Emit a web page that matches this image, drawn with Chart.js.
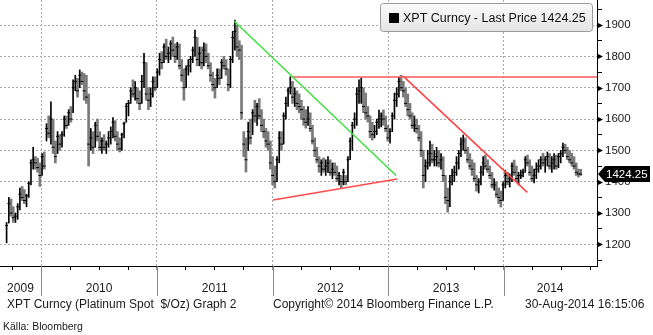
<!DOCTYPE html>
<html>
<head>
<meta charset="utf-8">
<script src="https://cdn.jsdelivr.net/npm/chart.js@4.4.1/dist/chart.umd.min.js"></script>
<style>
  html, body { margin: 0; padding: 0; background: #fff; }
  canvas { display: block; }
</style>
</head>
<body>
<canvas id="xptChart" width="653" height="335"></canvas>
<script>
// Platinum spot, weekly bars starting mid-September 2009 (decimal year of the first bar)
const firstWeek = 2009.70;

const weekHigh = [
  1270, 1350, 1345, 1320, 1300, 1330, 1380, 1385, 1375, 1360,
  1400, 1470, 1510, 1480, 1475, 1460, 1490, 1495, 1585, 1610,
  1655, 1600, 1530, 1560, 1550, 1560, 1610, 1610, 1630, 1640,
  1725, 1740, 1730, 1757, 1750, 1745, 1740, 1680, 1570, 1560,
  1590, 1600, 1560, 1540, 1550, 1530, 1560, 1575, 1605, 1595,
  1560, 1540, 1555, 1590, 1650, 1660, 1700, 1725, 1720, 1700,
  1690, 1740, 1810, 1780, 1700, 1700, 1735, 1735, 1760, 1810,
  1815, 1840, 1855, 1830, 1850, 1862, 1840, 1845, 1840, 1790,
  1760, 1770, 1790, 1800, 1830, 1884, 1860, 1830, 1830, 1843,
  1840, 1810, 1780, 1750, 1730, 1760, 1760, 1790, 1800, 1790,
  1760, 1800, 1880, 1916, 1900, 1850, 1836, 1560, 1540, 1590,
  1600, 1630, 1660, 1650, 1665, 1630, 1600, 1570, 1560, 1530,
  1480, 1450, 1480, 1560, 1560, 1620, 1670, 1700, 1735, 1720,
  1700, 1690, 1680, 1660, 1640, 1630, 1640, 1620, 1580, 1540,
  1510, 1480, 1470, 1476, 1470, 1480, 1470, 1460, 1460, 1450,
  1430, 1420, 1440, 1420, 1480, 1540, 1590, 1620, 1700, 1725,
  1731, 1700, 1683, 1640, 1610, 1590, 1580, 1600, 1629, 1620,
  1629, 1610, 1580, 1570, 1620, 1683, 1700, 1734, 1740, 1720,
  1700, 1680, 1650, 1620, 1610, 1600, 1580, 1560, 1500, 1470,
  1500, 1530, 1520, 1500, 1510, 1500, 1490, 1480, 1420, 1380,
  1420, 1440, 1450, 1480, 1500, 1540, 1549, 1540, 1510, 1490,
  1470, 1460, 1420, 1410, 1450, 1480, 1485, 1470, 1450, 1430,
  1410, 1400, 1380, 1370, 1400, 1437, 1430, 1425, 1460, 1469,
  1450, 1430, 1437, 1440, 1480, 1485, 1470, 1450, 1440, 1460,
  1470, 1480, 1491, 1480, 1495, 1490, 1480, 1490, 1485, 1490,
  1500, 1523, 1520, 1510, 1500, 1491, 1480, 1460, 1440, 1440
];

const weekLow = [
  1205, 1268, 1290, 1270, 1270, 1280, 1310, 1340, 1330, 1320,
  1350, 1390, 1440, 1440, 1430, 1385, 1420, 1440, 1530, 1540,
  1520, 1490, 1460, 1490, 1500, 1510, 1545, 1570, 1580, 1590,
  1620, 1690, 1670, 1700, 1710, 1660, 1650, 1450, 1500, 1490,
  1510, 1530, 1500, 1490, 1500, 1490, 1510, 1520, 1540, 1530,
  1500, 1495, 1500, 1540, 1590, 1610, 1650, 1670, 1660, 1650,
  1630, 1650, 1700, 1660, 1630, 1640, 1670, 1690, 1700, 1740,
  1760, 1780, 1790, 1780, 1790, 1800, 1780, 1790, 1760, 1720,
  1660, 1700, 1740, 1750, 1780, 1800, 1770, 1770, 1760, 1770,
  1780, 1760, 1720, 1690, 1667, 1700, 1710, 1730, 1760, 1740,
  1690, 1700, 1780, 1820, 1800, 1790, 1600, 1480, 1431, 1500,
  1520, 1550, 1590, 1580, 1600, 1560, 1540, 1510, 1500, 1440,
  1390, 1380, 1400, 1460, 1500, 1520, 1600, 1640, 1680, 1650,
  1640, 1630, 1620, 1600, 1580, 1571, 1580, 1560, 1520, 1480,
  1460, 1430, 1420, 1430, 1420, 1430, 1420, 1410, 1420, 1400,
  1390, 1380, 1390, 1390, 1400, 1470, 1500, 1570, 1580, 1650,
  1650, 1620, 1600, 1590, 1540, 1533, 1540, 1550, 1570, 1575,
  1580, 1560, 1530, 1523, 1560, 1600, 1640, 1670, 1690, 1670,
  1640, 1610, 1600, 1570, 1560, 1555, 1530, 1480, 1380, 1400,
  1440, 1450, 1460, 1450, 1450, 1447, 1440, 1400, 1330, 1303,
  1320, 1390, 1400, 1420, 1440, 1480, 1500, 1490, 1460, 1440,
  1420, 1400, 1370, 1364, 1390, 1420, 1440, 1430, 1410, 1380,
  1373, 1350, 1330, 1319, 1340, 1380, 1390, 1383, 1400, 1420,
  1400, 1390, 1410, 1415, 1430, 1450, 1420, 1400, 1396, 1410,
  1430, 1440, 1450, 1430, 1450, 1440, 1430, 1440, 1440, 1445,
  1460, 1480, 1490, 1470, 1460, 1450, 1440, 1420, 1415, 1420
];

const weekClose = [
  1260, 1330, 1300, 1285, 1290, 1320, 1360, 1350, 1340, 1355,
  1395, 1460, 1470, 1460, 1445, 1420, 1480, 1450, 1570, 1555,
  1600, 1510, 1480, 1545, 1520, 1550, 1600, 1580, 1620, 1600,
  1700, 1720, 1690, 1740, 1720, 1690, 1670, 1520, 1540, 1510,
  1580, 1545, 1510, 1530, 1510, 1520, 1540, 1560, 1590, 1545,
  1520, 1505, 1550, 1585, 1640, 1650, 1690, 1680, 1700, 1665,
  1650, 1720, 1780, 1680, 1660, 1680, 1720, 1700, 1750, 1790,
  1780, 1830, 1800, 1810, 1840, 1820, 1800, 1830, 1770, 1740,
  1700, 1760, 1770, 1790, 1820, 1860, 1790, 1810, 1780, 1820,
  1800, 1770, 1740, 1710, 1700, 1740, 1730, 1780, 1770, 1760,
  1710, 1790, 1860, 1880, 1830, 1820, 1620, 1520, 1470, 1560,
  1540, 1620, 1610, 1640, 1610, 1580, 1560, 1530, 1520, 1460,
  1420, 1400, 1470, 1540, 1520, 1610, 1650, 1690, 1700, 1670,
  1680, 1650, 1640, 1630, 1600, 1590, 1600, 1570, 1530, 1500,
  1470, 1450, 1460, 1440, 1450, 1460, 1430, 1440, 1430, 1410,
  1420, 1400, 1430, 1400, 1470, 1530, 1580, 1600, 1680, 1690,
  1700, 1640, 1620, 1610, 1560, 1550, 1560, 1590, 1600, 1610,
  1600, 1570, 1540, 1560, 1610, 1660, 1680, 1720, 1700, 1690,
  1650, 1630, 1610, 1580, 1580, 1570, 1540, 1500, 1420, 1450,
  1460, 1490, 1470, 1470, 1480, 1460, 1470, 1420, 1350, 1340,
  1400, 1420, 1430, 1460, 1490, 1520, 1530, 1500, 1470, 1450,
  1440, 1410, 1390, 1400, 1430, 1460, 1450, 1440, 1420, 1390,
  1390, 1360, 1350, 1340, 1390, 1420, 1400, 1410, 1450, 1430,
  1410, 1420, 1420, 1430, 1470, 1460, 1430, 1410, 1420, 1440,
  1450, 1470, 1460, 1470, 1480, 1450, 1460, 1470, 1450, 1480,
  1490, 1510, 1500, 1480, 1470, 1460, 1450, 1430, 1425, 1424.25
];

const lastPrice = 1424.25;

// axis ticks and labels
const priceTicks = [1150, 1200, 1250, 1300, 1350, 1400, 1450, 1500, 1550, 1600, 1650, 1700, 1750, 1800, 1850, 1900, 1950];
const quarterTicks = [2009.75, 2010, 2010.25, 2010.5, 2010.75, 2011, 2011.25, 2011.5, 2011.75, 2012,
  2012.25, 2012.5, 2012.75, 2013, 2013.25, 2013.5, 2013.75, 2014, 2014.25, 2014.5, 2014.75];
const yearBreaks = [2010, 2011, 2012, 2013, 2014];
const yearLabels = ['2009', '2010', '2011', '2012', '2013', '2014'];
const yearLabelPos = [2009.82, 2010.5, 2011.5, 2012.5, 2013.5, 2014.4];

// hand-drawn trend lines, [decimal year, price] end points
const greenTrend = [[2011.667, 1913], [2013.068, 1420]];
const resistance = [[2012.169, 1734], [2014.805, 1734]];
const downTrend = [[2013.129, 1737], [2014.202, 1366]];
const supportTrend = [[2012.004, 1342], [2013.077, 1409]];

const X_MIN = 2009.643, X_MAX = 2014.805;
const Y_MIN = 1131, Y_MAX = 1980;
const FONT = "'Liberation Sans', Arial, sans-serif";
const clear = 'rgba(0,0,0,0)';
const gridGray = '#a8a8a8';

const weekX = weekClose.map((_, i) => firstWeek + i * 7 / 365.25);
const upBars = [];
const downBars = [];
const closeTicks = [];
weekClose.forEach((c, i) => {
  const bar = { x: weekX[i], y: [weekLow[i], weekHigh[i]] };
  if (i === 0 || c >= weekClose[i - 1]) upBars.push(bar); else downBars.push(bar);
  closeTicks.push({ x: weekX[i], y: c });
});

const toPoints = seg => seg.map(([x, y]) => ({ x, y }));
const trendSet = (seg, color) => ({
  type: 'line', data: toPoints(seg), xAxisID: 'x', yAxisID: 'y',
  borderColor: color, borderWidth: 1.5, pointRadius: 0, fill: false, order: 0
});

// axes keep no extra padding so the plot fills the frame
const noPad = s => { s.paddingTop = 0; s.paddingBottom = 0; s.paddingLeft = 0; s.paddingRight = 0; };

// extra drawing: year dividers under the axis, arrow ticks, legend box, last price tag, footer
const decorations = {
  id: 'decorations',
  afterDraw(chart) {
    const { ctx, chartArea: a, scales: { x, y } } = chart;
    ctx.save();

    ctx.strokeStyle = '#8c8c8c';
    ctx.lineWidth = 1;
    yearBreaks.forEach(yr => {
      const px = Math.round(x.getPixelForValue(yr)) + 0.5;
      ctx.beginPath();
      ctx.moveTo(px, a.bottom);
      ctx.lineTo(px, a.bottom + 30);
      ctx.stroke();
    });

    ctx.fillStyle = '#000';
    priceTicks.filter(v => v % 100 === 0).forEach(v => {
      const py = Math.round(y.getPixelForValue(v)) + 0.5;
      ctx.beginPath();
      ctx.moveTo(a.right, py - 3);
      ctx.lineTo(a.right + 6, py);
      ctx.lineTo(a.right, py + 3);
      ctx.closePath();
      ctx.fill();
    });

    // legend box
    const g = ctx.createLinearGradient(0, 3, 0, 32);
    g.addColorStop(0, '#fbfbfb');
    g.addColorStop(1, '#e4e4e4');
    ctx.fillStyle = g;
    ctx.strokeStyle = '#9a9a9a';
    ctx.beginPath();
    ctx.roundRect(380.5, 3.5, 212, 28, 3);
    ctx.fill();
    ctx.stroke();
    ctx.fillStyle = '#000';
    ctx.fillRect(389, 13, 10, 10);
    ctx.font = '12.5px ' + FONT;
    ctx.textBaseline = 'middle';
    ctx.textAlign = 'left';
    ctx.fillStyle = '#111';
    ctx.fillText('XPT Curncy - Last Price ' + lastPrice.toFixed(2), 403, 18.5);

    // last price tag on the price axis
    const ly = y.getPixelForValue(lastPrice);
    ctx.fillStyle = '#000';
    ctx.beginPath();
    ctx.moveTo(a.right + 1, ly);
    ctx.lineTo(a.right + 8, ly - 8);
    ctx.lineTo(650, ly - 8);
    ctx.lineTo(650, ly + 8);
    ctx.lineTo(a.right + 8, ly + 8);
    ctx.closePath();
    ctx.fill();
    ctx.fillStyle = '#fff';
    ctx.font = '11.5px ' + FONT;
    ctx.fillText(lastPrice.toFixed(2), 606, ly + 0.5);

    // footer
    ctx.fillStyle = '#1a1a1a';
    ctx.font = '12px ' + FONT;
    ctx.fillText('XPT Curncy (Platinum Spot  $/Oz) Graph 2', 7, 305);
    ctx.fillText('Copyright\u00a9 2014 Bloomberg Finance L.P.', 273, 305);
    ctx.fillText('30-Aug-2014 16:15:06', 525, 305);
    ctx.font = "10.5px 'Liberation Sans Narrow', 'Liberation Sans', sans-serif";
    ctx.fillText('K\u00e4lla: Bloomberg', 3, 327);
    ctx.restore();
  }
};

new Chart(document.getElementById('xptChart'), {
  type: 'bar',
  data: {
    datasets: [
      trendSet(greenTrend, '#3ee03e'),
      trendSet(resistance, '#ff5a5a'),
      trendSet(downTrend, '#ff4040'),
      trendSet(supportTrend, '#ff4a4a'),
      {
        type: 'line', data: closeTicks, xAxisID: 'x', yAxisID: 'y', showLine: false,
        pointStyle: 'line', pointRadius: 1.5, pointBorderWidth: 1, pointBorderColor: '#000', order: 1
      },
      {
        type: 'bar', data: upBars, xAxisID: 'x', yAxisID: 'y', grouped: false,
        backgroundColor: '#000', barThickness: 1, order: 2
      },
      {
        type: 'bar', data: downBars, xAxisID: 'x', yAxisID: 'y', grouped: false,
        backgroundColor: '#7a7a7a', barThickness: 2, order: 2
      }
    ]
  },
  options: {
    responsive: false,
    animation: false,
    events: [],
    layout: { padding: 0, autoPadding: false },
    plugins: { legend: { display: false }, tooltip: { enabled: false } },
    scales: {
      x: {
        type: 'linear', position: 'bottom', min: X_MIN, max: X_MAX, offset: false, weight: 0,
        afterBuildTicks: s => { s.ticks = quarterTicks.map(v => ({ value: v })); },
        ticks: { display: false, autoSkip: false },
        grid: {
          offset: false,
          color: c => (c.tick && Number.isInteger(c.tick.value) ? gridGray : clear),
          tickColor: c => (c.tick && Number.isInteger(c.tick.value) ? '#8c8c8c' : '#000'),
          tickLength: 4
        },
        border: { display: true, color: '#000', width: 1, dash: [2, 2] },
        afterFit: s => { s.height = 4; noPad(s); }
      },
      x2: {
        type: 'linear', position: 'bottom', min: X_MIN, max: X_MAX, offset: false, weight: 1,
        afterBuildTicks: s => { s.ticks = yearLabelPos.map(v => ({ value: v })); },
        ticks: {
          autoSkip: false, maxRotation: 0, padding: 3, color: '#1a1a1a',
          font: { family: FONT, size: 12 },
          callback: (v, i) => yearLabels[i]
        },
        grid: { display: false },
        border: { display: false },
        afterFit: s => { s.height = 65; noPad(s); }
      },
      y: {
        type: 'linear', position: 'right', min: Y_MIN, max: Y_MAX,
        afterBuildTicks: s => { s.ticks = priceTicks.map(v => ({ value: v })); },
        ticks: {
          autoSkip: false, padding: 3, color: '#1a1a1a',
          font: { family: FONT, size: 11.5 },
          callback: v => (v % 100 === 0 ? String(v) : '')
        },
        grid: {
          color: c => (c.tick && c.tick.value % 100 === 0 ? gridGray : clear),
          tickColor: c => (c.tick && c.tick.value % 100 === 0 ? clear : '#000'),
          tickLength: 5
        },
        border: { display: true, color: '#000', width: 1, dash: [2, 2] },
        afterFit: s => { s.width = 56; noPad(s); }
      }
    }
  },
  plugins: [decorations]
});
</script>
</body>
</html>
